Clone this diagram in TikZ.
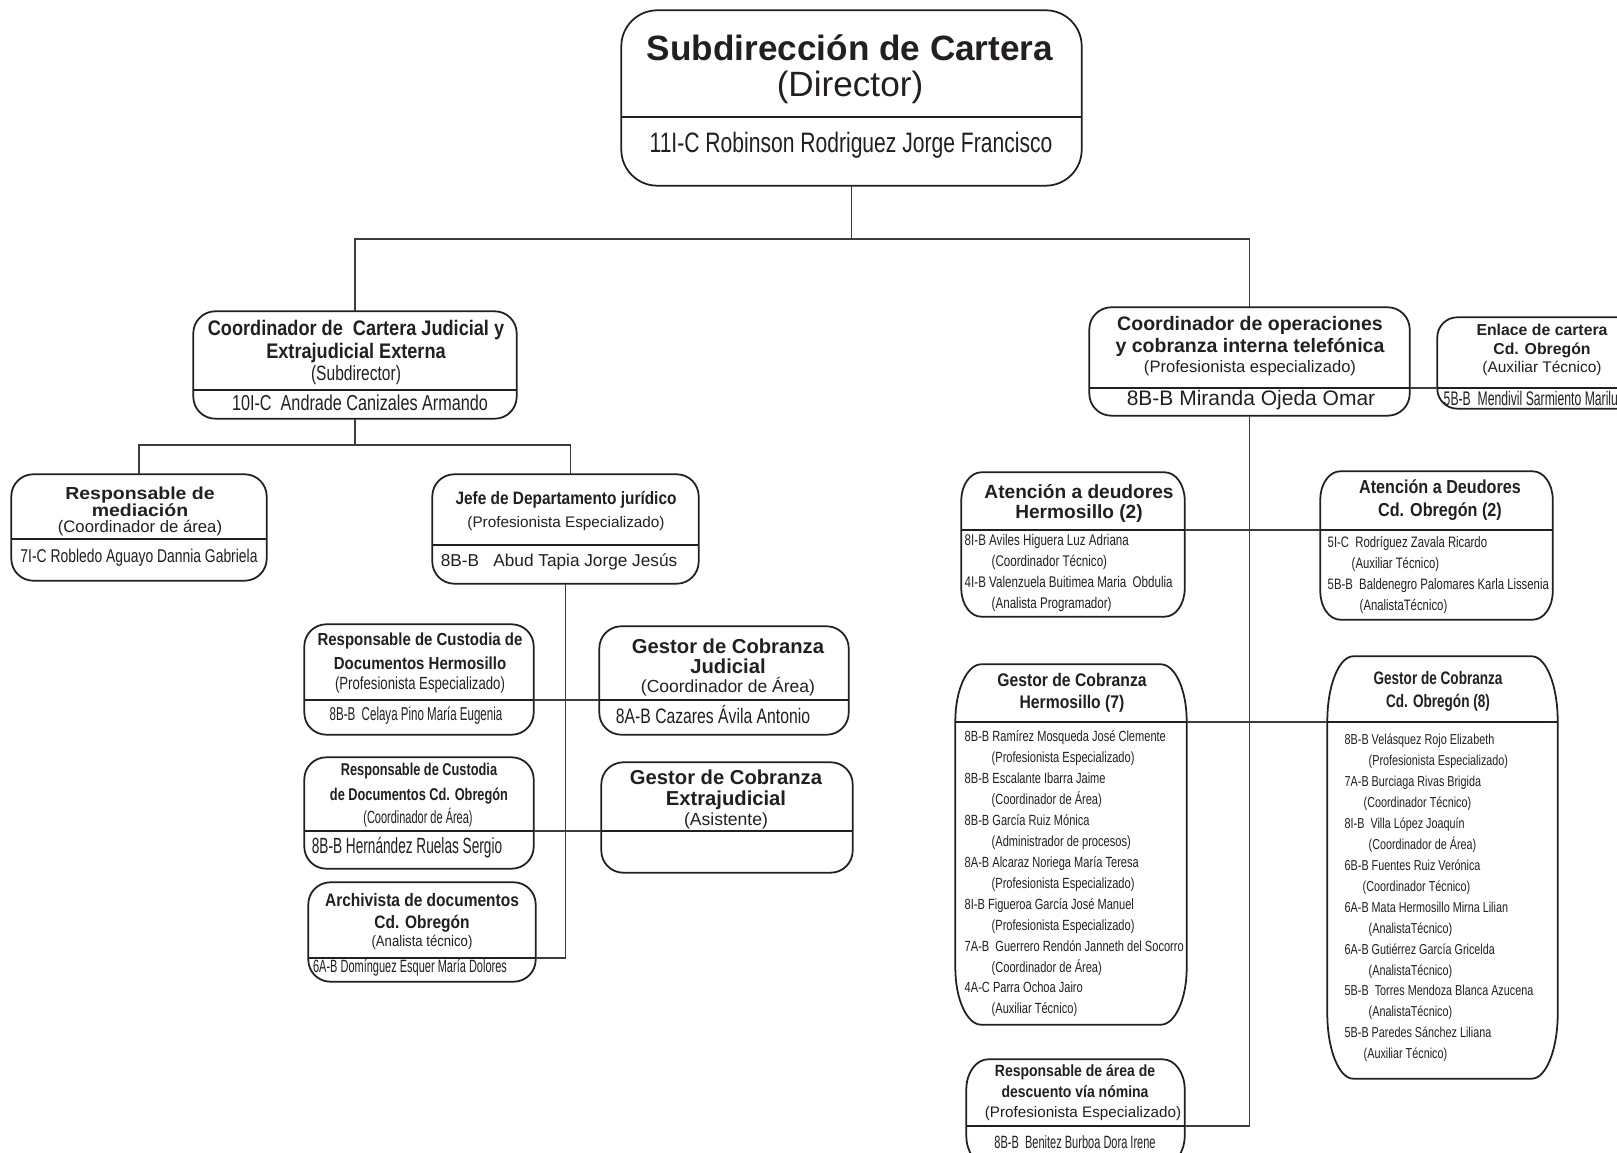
\documentclass[tikz,border=0pt]{standalone}
\usepackage{fontspec}
\setmainfont{Liberation Sans}
\newfontfamily\wideA[FakeStretch=1.12]{Liberation Sans}
\newfontfamily\narrowA[FakeStretch=0.86]{Liberation Sans}
\newfontfamily\narrowB[FakeStretch=0.75]{Liberation Sans}
\newfontfamily\narrowC[FakeStretch=0.62]{Liberation Sans}
\tikzstyle{chart} = [y = -1cm]
\definecolor{inkColor}{RGB}{35,31,32}
\definecolor{connColor}{RGB}{60,60,60}
\tikzstyle{boxLine} = [draw=inkColor, line width=0.5pt]
\tikzstyle{connLine} = [draw=connColor, line width=0.5pt]
\tikzstyle{chartText} = [inner sep=0pt, align=center, text=inkColor]
\tikzstyle{listText} = [inner sep=0pt, align=left, anchor=west, text=inkColor]
\newcommand{\setfs}[2]{\fontsize{#1}{#2}\selectfont}
\newcommand{\ind}{\hspace*{0.27cm}}
% name, cx, cy, width, height, corner x, corner y, divider y
\newcommand{\chartBox}[8]{
  \node [minimum width=#4cm, minimum height=#5cm, inner sep=0pt] (#1) at (#2,#3) {};
  \draw [boxLine] ([xshift=#6cm]#1.north west) -- ([xshift=-#6cm]#1.north east)
    .. controls ([xshift=-0.448*#6cm]#1.north east) and ([yshift=-0.448*#7cm]#1.north east) .. ([yshift=-#7cm]#1.north east)
    -- ([yshift=#7cm]#1.south east)
    .. controls ([yshift=0.448*#7cm]#1.south east) and ([xshift=-0.448*#6cm]#1.south east) .. ([xshift=-#6cm]#1.south east)
    -- ([xshift=#6cm]#1.south west)
    .. controls ([xshift=0.448*#6cm]#1.south west) and ([yshift=0.448*#7cm]#1.south west) .. ([yshift=#7cm]#1.south west)
    -- ([yshift=-#7cm]#1.north west)
    .. controls ([yshift=-0.448*#7cm]#1.north west) and ([xshift=0.448*#6cm]#1.north west) .. ([xshift=#6cm]#1.north west) -- cycle;
  \coordinate (#1-div) at (#2,#8);
  \draw [boxLine] (#1.west |- #1-div) -- (#1.east |- #1-div);
}

\begin{document}
\begin{tikzpicture}[chart]
  \useasboundingbox (0,0) rectangle (16.17,11.53);
  \fill [white] (0,0) rectangle (16.17,11.53);
  \clip (0,0) rectangle (16.17,11.53);

  % boxes
  \chartBox{dir}{8.515}{0.98}{4.59}{1.74}{0.36}{0.36}{1.17}
  \chartBox{cjud}{3.55}{3.65}{3.22}{1.06}{0.22}{0.22}{3.90}
  \chartBox{med}{1.39}{5.275}{2.54}{1.05}{0.22}{0.22}{5.39}
  \chartBox{jefe}{5.655}{5.29}{2.65}{1.08}{0.22}{0.22}{5.45}
  \chartBox{custH}{4.19}{6.795}{2.28}{1.09}{0.22}{0.22}{7.00}
  \chartBox{gjud}{7.24}{6.805}{2.48}{1.07}{0.22}{0.22}{7.00}
  \chartBox{custO}{4.19}{8.13}{2.28}{1.10}{0.22}{0.22}{8.31}
  \chartBox{gext}{7.27}{8.175}{2.50}{1.09}{0.22}{0.22}{8.31}
  \chartBox{arch}{4.22}{9.32}{2.26}{0.98}{0.22}{0.22}{9.58}
  \chartBox{cop}{12.495}{3.615}{3.19}{1.07}{0.22}{0.22}{3.88}
  \chartBox{enl}{15.42}{3.63}{2.08}{0.90}{0.2}{0.2}{3.88}
  \chartBox{atH}{10.73}{5.445}{2.22}{1.43}{0.2}{0.28}{5.30}
  \chartBox{atO}{14.365}{5.455}{2.31}{1.47}{0.2}{0.28}{5.30}
  \chartBox{gH}{10.71}{8.445}{2.30}{3.59}{0.26}{0.57}{7.22}
  \chartBox{gO}{14.425}{8.675}{2.29}{4.21}{0.26}{0.65}{7.22}
  \chartBox{desc}{10.755}{11.125}{2.17}{1.05}{0.22}{0.3}{11.26}

  % connectors
  \coordinate (topBus) at (8.48,2.39);
  \coordinate (judBus) at (3.56,4.45);
  \draw [connLine] (dir.south) -- (dir.south |- topBus);
  \draw [connLine] (cjud.north) |- (topBus) -| (cop.north);
  \draw [connLine] (cjud.south) -- (cjud.south |- judBus);
  \draw [connLine] (med.north) |- (judBus) -| ([xshift=0.05cm]jefe.north);
  \draw [connLine] (jefe.south) |- (arch.east |- arch-div);
  \draw [connLine] (custH.east |- custH-div) -- (gjud.west |- gjud-div);
  \draw [connLine] (custO.east |- custO-div) -- (gext.west |- gext-div);
  \draw [connLine] (cop.east |- cop-div) -- (enl.west |- enl-div);
  \draw [connLine] (cop.south) |- (desc.east |- desc-div);
  \draw [connLine] (atH.east |- atH-div) -- (atO.west |- atO-div);
  \draw [connLine] (gH.east |- gH-div) -- (gO.west |- gO-div);

  % texts
  \node [chartText, font=\bfseries\setfs{10}{11.1}] (dir-title) at (8.50,0.48) {Subdirección de Cartera};
  \node [chartText, font=\setfs{10}{11.1}] (dir-role) at (8.50,0.87) {(Director)};
  \node [chartText, font=\narrowB\setfs{8}{9.6}] (dir-name) at (8.51,1.45) {11I-C Robinson Rodriguez Jorge Francisco};

  \node [chartText, font=\narrowA\bfseries\setfs{6}{6.5}] (cjud-title) at (3.56,3.415) {Coordinador de\ \ Cartera Judicial y\\Extrajudicial Externa};
  \node [chartText, font=\narrowB\setfs{5.9}{7}] (cjud-role) at (3.56,3.75) {(Subdirector)};
  \node [chartText, font=\narrowB\setfs{6.15}{7}] (cjud-name) at (3.60,4.03) {10I-C\ \ Andrade Canizales Armando};

  \node [chartText, font=\wideA\bfseries\setfs{4.95}{5}] (med-title) at (1.40,5.02) {Responsable de\\mediación};
  \node [chartText, font=\setfs{4.75}{5.5}] (med-role) at (1.40,5.285) {(Coordinador de área)};
  \node [chartText, font=\narrowB\setfs{5.27}{6}] (med-name) at (1.39,5.58) {7I-C Robledo Aguayo Dannia Gabriela};

  \node [chartText, font=\narrowA\bfseries\setfs{5.1}{6}] (jefe-title) at (5.66,5.00) {Jefe de Departamento jurídico};
  \node [chartText, font=\setfs{4.35}{5}] (jefe-role) at (5.66,5.24) {(Profesionista Especializado)};
  \node [chartText, font=\setfs{4.9}{6}] (jefe-name) at (5.59,5.62) {8B-B\ \ \ Abud Tapia Jorge Jesús};

  \node [chartText, font=\narrowA\bfseries\setfs{4.96}{6.8}] (custH-title) at (4.20,6.51) {Responsable de Custodia de\\Documentos Hermosillo};
  \node [chartText, font=\narrowB\setfs{5}{6}] (custH-role) at (4.20,6.85) {(Profesionista Especializado)};
  \node [chartText, font=\narrowC\setfs{5.3}{6}] (custH-name) at (4.16,7.16) {8B-B\ \ Celaya Pino María Eugenia};

  \node [chartText, font=\bfseries\setfs{5.75}{5.7}] (gjud-title) at (7.28,6.56) {Gestor de Cobranza\\Judicial};
  \node [chartText, font=\setfs{4.98}{6}] (gjud-role) at (7.28,6.87) {(Coordinador de Área)};
  \node [chartText, font=\narrowB\setfs{5.97}{7}] (gjud-name) at (7.13,7.15) {8A-B Cazares Ávila Antonio};

  \node [chartText, font=\narrowB\bfseries\setfs{4.85}{7}] (custO-title) at (4.19,7.835) {Responsable de Custodia\\de Documentos Cd. Obregón};
  \node [chartText, font=\narrowC\setfs{5.04}{6}] (custO-role) at (4.18,8.18) {(Coordinador de Área)};
  \node [chartText, font=\narrowC\setfs{6.26}{7}] (custO-name) at (4.07,8.48) {8B-B Hernández Ruelas Sergio};

  \node [chartText, font=\bfseries\setfs{5.75}{6}] (gext-title) at (7.26,7.895) {Gestor de Cobranza\\Extrajudicial};
  \node [chartText, font=\setfs{5}{6}] (gext-role) at (7.26,8.21) {(Asistente)};

  \node [chartText, font=\narrowA\bfseries\setfs{5.13}{6.26}] (arch-title) at (4.22,9.13) {Archivista de documentos\\Cd. Obregón};
  \node [chartText, font=\narrowA\setfs{4.35}{5}] (arch-role) at (4.22,9.42) {(Analista técnico)};
  \node [chartText, font=\narrowC\setfs{5.05}{6}] (arch-name) at (4.10,9.68) {6A-B Domínguez Esquer María Dolores};

  \node [chartText, font=\bfseries\setfs{5.55}{6.5}] (cop-title) at (12.50,3.365) {Coordinador de operaciones\\y cobranza interna telefónica};
  \node [chartText, font=\setfs{4.72}{5.5}] (cop-role) at (12.50,3.68) {(Profesionista especializado)};
  \node [chartText, font=\setfs{5.97}{7}] (cop-name) at (12.51,4.00) {8B-B Miranda Ojeda Omar};

  \node [chartText, font=\bfseries\setfs{4.5}{5.4}] (enl-title) at (15.42,3.405) {Enlace de cartera\\Cd. Obregón};
  \node [chartText, font=\setfs{4.39}{5}] (enl-role) at (15.42,3.68) {(Auxiliar Técnico)};
  \node [chartText, anchor=west, font=\narrowC\setfs{5.6}{6}] (enl-name) at (14.43,3.98) {5B-B\ \ Mendivil Sarmiento Marilu};

  \node [chartText, font=\bfseries\setfs{5.44}{5.7}] (atH-title) at (10.79,5.03) {Atención a deudores\\Hermosillo (2)};
  \node [listText, font=\narrowB\setfs{4.4}{5.9}] (atH-list) at (9.64,5.73) {8I-B Aviles Higuera Luz Adriana\\
    \ind(Coordinador Técnico)\\
    4I-B Valenzuela Buitimea Maria\ \ Obdulia\\
    \ind(Analista Programador)};

  \node [chartText, font=\narrowA\bfseries\setfs{5.35}{6.5}] (atO-title) at (14.40,5.005) {Atención a Deudores\\Cd. Obregón (2)};
  \node [listText, font=\narrowB\setfs{4.3}{5.9}] (atO-list) at (13.27,5.75) {5I-C\ \ Rodríguez Zavala Ricardo\\
    \hspace*{0.24cm}(Auxiliar Técnico)\\
    5B-B\ \ Baldenegro Palomares Karla Lissenia\\
    \hspace*{0.32cm}(AnalistaTécnico)};

  \node [chartText, font=\narrowA\bfseries\setfs{5.2}{6.26}] (gH-title) at (10.72,6.93) {Gestor de Cobranza\\Hermosillo (7)};
  \node [listText, font=\narrowB\setfs{4.2}{5.95}] (gH-list) at (9.64,8.74) {8B-B Ramírez Mosqueda José Clemente\\
    \ind(Profesionista Especializado)\\
    8B-B Escalante Ibarra Jaime\\
    \ind(Coordinador de Área)\\
    8B-B García Ruiz Mónica\\
    \ind(Administrador de procesos)\\
    8A-B Alcaraz Noriega María Teresa\\
    \ind(Profesionista Especializado)\\
    8I-B Figueroa García José Manuel\\
    \ind(Profesionista Especializado)\\
    7A-B\ \ Guerrero Rendón Janneth del Socorro\\
    \ind(Coordinador de Área)\\
    4A-C Parra Ochoa Jairo\\
    \ind(Auxiliar Técnico)};

  \node [chartText, font=\narrowB\bfseries\setfs{5.15}{6.5}] (gO-title) at (14.38,6.915) {Gestor de Cobranza\\Cd. Obregón (8)};
  \node [listText, font=\narrowB\setfs{4.1}{5.95}] (gO-list) at (13.44,8.98) {8B-B Velásquez Rojo Elizabeth\\
    \hspace*{0.24cm}(Profesionista Especializado)\\
    7A-B Burciaga Rivas Brigida\\
    \hspace*{0.19cm}(Coordinador Técnico)\\
    8I-B\ \ Villa López Joaquín\\
    \hspace*{0.24cm}(Coordinador de Área)\\
    6B-B Fuentes Ruiz Verónica\\
    \hspace*{0.18cm}(Coordinador Técnico)\\
    6A-B Mata Hermosillo Mirna Lilian\\
    \hspace*{0.24cm}(AnalistaTécnico)\\
    6A-B Gutiérrez García Gricelda\\
    \hspace*{0.24cm}(AnalistaTécnico)\\
    5B-B\ \ Torres Mendoza Blanca Azucena\\
    \hspace*{0.24cm}(AnalistaTécnico)\\
    5B-B Paredes Sánchez Liliana\\
    \hspace*{0.19cm}(Auxiliar Técnico)};

  \node [chartText, font=\narrowA\bfseries\setfs{4.63}{6}] (desc-title) at (10.75,10.815) {Responsable de área de\\descuento vía nómina};
  \node [chartText, font=\setfs{4.33}{5}] (desc-role) at (10.83,11.14) {(Profesionista Especializado)};
  \node [chartText, font=\narrowC\setfs{5.06}{6}] (desc-name) at (10.75,11.42) {8B-B\ \ Benitez Burboa Dora Irene};
\end{tikzpicture}
\end{document}
